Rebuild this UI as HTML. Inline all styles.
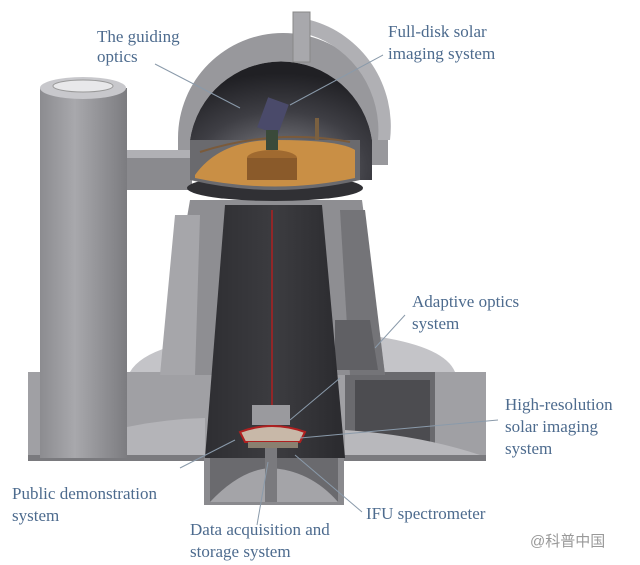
<!DOCTYPE html>
<html><head><meta charset="utf-8"><style>
html,body{margin:0;padding:0;background:#fff;width:640px;height:565px;overflow:hidden}
svg{display:block}
text{font-family:"Liberation Serif",serif;font-size:17px;fill:#4d6b8e}
</style></head><body>
<svg width="640" height="565" viewBox="0 0 640 565">
<defs>
<linearGradient id="cyl" x1="0" x2="1"><stop offset="0" stop-color="#8c8c90"/><stop offset=".4" stop-color="#a8a8ac"/><stop offset="1" stop-color="#7c7c80"/></linearGradient>
<linearGradient id="cone" x1="0" x2="1"><stop offset="0" stop-color="#2e2e32"/><stop offset=".5" stop-color="#3c3c40"/><stop offset="1" stop-color="#2a2a2e"/></linearGradient>
<radialGradient id="domein" cx=".5" cy=".9" r=".8"><stop offset="0" stop-color="#8a8a90"/><stop offset=".6" stop-color="#3e3e44"/><stop offset="1" stop-color="#202024"/></radialGradient>
</defs>
<rect x="28" y="372" width="458" height="88" fill="#a0a0a4"/>
<rect x="28" y="455" width="458" height="6" fill="#7a7a7e"/>
<path d="M130 372 Q150 335 300 330 Q440 335 455 372Z" fill="#c4c4c8"/>
<path d="M345 372 L435 372 L435 455 L345 455Z" fill="#6a6a6e"/>
<path d="M355 380 L430 380 L430 455 Q380 420 355 455Z" fill="#4c4c50"/>
<path d="M40 455 Q120 420 205 418 L205 455Z" fill="#b4b4b8"/>
<path d="M345 430 Q420 435 480 455 L345 455Z" fill="#b8b8bc"/>
<path d="M190 200 L362 200 L385 375 L160 375Z" fill="#8e8e92"/>
<path d="M175 215 L200 215 L195 375 L160 375Z" fill="#a6a6aa"/>
<path d="M340 210 L365 210 L385 375 L350 375Z" fill="#747478"/>
<path d="M335 320 L370 320 L378 370 L335 370Z" fill="#606064"/>
<rect x="120" y="150" width="72" height="40" fill="#8a8a8e"/>
<rect x="120" y="150" width="72" height="8" fill="#b0b0b4"/>
<rect x="40" y="88" width="87" height="370" fill="url(#cyl)"/>
<ellipse cx="83" cy="88" rx="43" ry="11" fill="#c8c8cc"/>
<ellipse cx="83" cy="86" rx="30" ry="6" fill="#e8e8ea" stroke="#999" stroke-width="1"/>
<path d="M225 205 L322 205 L345 458 L205 458Z" fill="url(#cone)"/>
<line x1="272" y1="210" x2="272" y2="415" stroke="#b02020" stroke-width="1.5"/>
<rect x="204" y="458" width="140" height="47" fill="#8a8a8e"/>
<rect x="210" y="458" width="128" height="44" fill="#6a6a6e"/>
<path d="M210 502 Q240 470 270 468 Q310 470 338 502Z" fill="#a4a4a8"/>
<rect x="265" y="445" width="12" height="57" fill="#7a7a7e"/>
<rect x="252" y="405" width="38" height="20" fill="#9a9a9e"/>
<path d="M240 432 Q272 420 305 432 L300 442 L245 442Z" fill="#c8b8a8" stroke="#b02020" stroke-width="2"/>
<rect x="248" y="442" width="50" height="6" fill="#8a8070"/>
<path d="M178 138 A105 105 0 0 1 388 138 L388 165 L372 165 L372 140 A92 92 0 0 0 190 140 L190 150 L178 150Z" fill="#98989c"/>
<path d="M190 140 A92 92 0 0 1 372 140 L372 180 L190 180Z" fill="url(#domein)"/>
<path d="M310 20 A108 110 0 0 1 390 140 L378 140 A96 100 0 0 0 310 35Z" fill="#b0b0b4"/>
<rect x="293" y="12" width="17" height="50" fill="#a8a8ac" stroke="#888" stroke-width="1"/>
<ellipse cx="275" cy="188" rx="88" ry="13" fill="#303034"/>
<path d="M190 140 L360 140 L360 180 Q275 200 190 180Z" fill="#6a6a6e"/>
<path d="M195 175 Q220 140 275 140 Q340 140 355 150 L355 178 Q275 195 195 178Z" fill="#c98f45"/>
<ellipse cx="272" cy="158" rx="25" ry="8" fill="#a06a30"/>
<rect x="247" y="158" width="50" height="22" fill="#8a5a2a"/>
<path d="M200 152 Q275 128 350 142" fill="none" stroke="#7a5a3a" stroke-width="2"/>
<rect x="262" y="100" width="22" height="32" fill="#4a4a6a" transform="rotate(20 273 116)"/>
<rect x="266" y="130" width="12" height="20" fill="#3a4a3a"/>
<rect x="315" y="118" width="4" height="22" fill="#7a6040"/>
<g stroke="#8a9aaa" stroke-width="1" fill="none">
<line x1="155" y1="64" x2="240" y2="108"/>
<line x1="383" y1="55" x2="290" y2="105"/>
<line x1="405" y1="315" x2="375" y2="348"/>
<line x1="498" y1="420" x2="300" y2="438"/>
<line x1="180" y1="468" x2="235" y2="440"/>
<line x1="362" y1="512" x2="295" y2="455"/>
<line x1="257" y1="525" x2="268" y2="462"/>
<line x1="290" y1="420" x2="340" y2="378"/>
</g>
<text x="97" y="42">The guiding</text>
<text x="97" y="62">optics</text>
<text x="388" y="37">Full-disk solar</text>
<text x="388" y="59">imaging system</text>
<text x="412" y="307">Adaptive optics</text>
<text x="412" y="329">system</text>
<text x="505" y="410">High-resolution</text>
<text x="505" y="432">solar imaging</text>
<text x="505" y="454">system</text>
<text x="12" y="499">Public demonstration</text>
<text x="12" y="521">system</text>
<text x="366" y="519">IFU spectrometer</text>
<text x="190" y="535">Data acquisition and</text>
<text x="190" y="557">storage system</text>
<text x="530" y="546" style="font-family:'Liberation Sans','Noto Sans CJK SC',sans-serif;font-size:15px;fill:#999">@科普中国</text>
</svg>
</body></html>
